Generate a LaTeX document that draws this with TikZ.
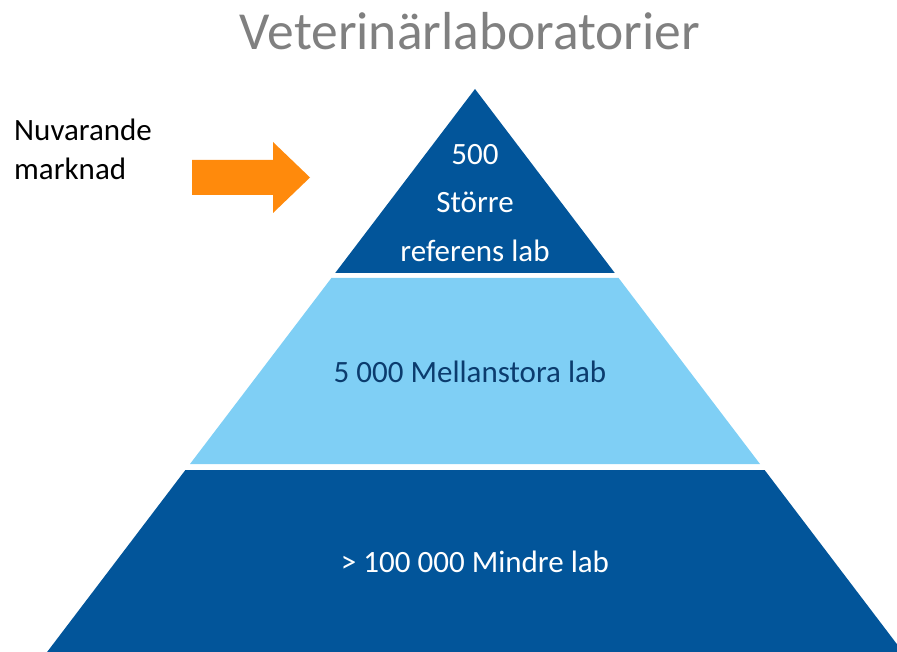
\documentclass[tikz,border=0pt]{standalone}
\usepackage{fontspec}
\setmainfont{Carlito}
\definecolor{pyrdark}{HTML}{02559A}
\definecolor{pyrlight}{HTML}{7FCFF5}
\definecolor{arroworange}{HTML}{FF8A0C}
\definecolor{titlegray}{HTML}{808080}
\definecolor{navytext}{HTML}{0B3C6E}
\tikzset{
  tierdark/.style={fill=pyrdark, draw=none},
  tierlight/.style={fill=pyrlight, draw=none},
  tiertext/.style={font=\fontsize{31}{37}\selectfont, anchor=base, inner sep=0pt},
  sidetext/.style={font=\fontsize{31}{37}\selectfont, anchor=base west, inner sep=0pt, text=black},
}
\begin{document}
\begin{tikzpicture}[x=1pt,y=-1pt]
\useasboundingbox (0,0) rectangle (897,652);
\clip (0,0) rectangle (897,652);
% title
\node[anchor=base, inner sep=0pt, text=titlegray, font=\fontsize{53.5}{60}\selectfont] (title) at (470,50) {Veterinärlaboratorier};
% pyramid tiers
\fill[tierdark] (475,89) -- (614.8,273) -- (335.2,273) -- cycle;
\fill[tierlight] (331.4,278) -- (618.6,278) -- (760,464) -- (190,464) -- cycle;
\fill[tierdark] (185.4,470) -- (764.6,470) -- (902.9,652) -- (47.1,652) -- cycle;
% tier texts
\node[tiertext, text=white] (t1a) at (475,165) {500};
\node[tiertext, text=white] (t1b) at (475,213) {Större};
\node[tiertext, text=white] (t1c) at (475,262) {referens lab};
\node[tiertext, text=navytext] (t2) at (470,382) {5 000 Mellanstora lab};
\node[tiertext, text=white] (t3) at (475,572) {> 100 000 Mindre lab};
% side label
\node[sidetext] (nv1) at (14,141) {Nuvarande};
\node[sidetext] (nv2) at (14,180) {marknad};
% arrow
\fill[arroworange] (192,160) -- (273,160) -- (273,142) -- (310,177.5) -- (273,213) -- (273,195) -- (192,195) -- cycle;
\end{tikzpicture}
\end{document}
